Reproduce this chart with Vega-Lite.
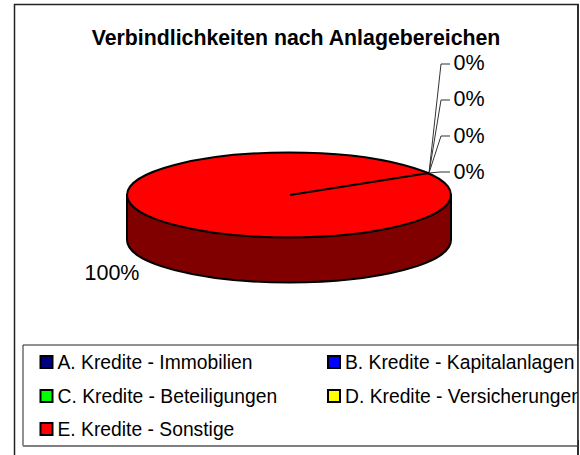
{"$schema":"https://vega.github.io/schema/vega-lite/v6.json","width":580,"height":455,"padding":0,"autosize":{"type":"none"},"background":"white","view":{"stroke":null},
"datasets":{
"frame":[{"x1":14.5,"x2":578,"y1":4.5,"y2":475}],
"legendbox":[{"x1":23,"x2":578,"y1":345,"y2":446}],
"legendbottom":[{"x1":23,"x2":578,"y":446}],
"strip":[{"x1":578,"x2":590,"y1":340,"y2":440}],
"rightedge":[{"x":578,"y1":4,"y2":455}],
"labels":[{"x":469,"y":64,"t":"0%"},{"x":469,"y":100,"t":"0%"},{"x":469,"y":137,"t":"0%"},{"x":469,"y":173,"t":"0%"},{"x":112,"y":274,"t":"100%"}],
"leaders":[{"id":"a","o":0,"x":429,"y":173},{"id":"a","o":1,"x":441,"y":64},{"id":"a","o":2,"x":450,"y":64},{"id":"b","o":0,"x":429,"y":173},{"id":"b","o":1,"x":441,"y":100},{"id":"b","o":2,"x":450,"y":100},{"id":"c","o":0,"x":429,"y":173},{"id":"c","o":1,"x":441,"y":136},{"id":"c","o":2,"x":450,"y":136},{"id":"d","o":0,"x":429,"y":173},{"id":"d","o":1,"x":440,"y":172},{"id":"d","o":2,"x":450,"y":172}],
"radius":[{"id":"r","o":0,"x":290,"y":195},{"id":"r","o":1,"x":429,"y":173}],
"legend":[{"x":46.5,"y":362,"t":"A. Kredite - Immobilien","c":"#000080"},{"x":334,"y":362,"t":"B. Kredite - Kapitalanlagen","c":"#0000ff"},{"x":46.5,"y":396,"t":"C. Kredite - Beteiligungen","c":"#00ff00"},{"x":334,"y":396,"t":"D. Kredite - Versicherungen","c":"#ffff00"},{"x":46.5,"y":429,"t":"E. Kredite - Sonstige","c":"#ff0000"}],
"pie":[{"x":289,"cy":195}],
"title":[{"x":296,"y":39,"t":"Verbindlichkeiten nach Anlagebereichen"}]
},
"encoding":{"x":{"type":"quantitative","scale":{"domain":[0,580],"range":[0,580]},"axis":null},"y":{"type":"quantitative","scale":{"domain":[0,455],"range":[0,455]},"axis":null}},
"layer":[
{"data":{"name":"frame"},"mark":{"type":"rect","fill":"white","stroke":"#222222","strokeWidth":1.5},"encoding":{"x":{"field":"x1"},"x2":{"field":"x2"},"y":{"field":"y1"},"y2":{"field":"y2"}}},
{"data":{"name":"legendbox"},"mark":{"type":"rect","fill":"white","stroke":"#222222","strokeWidth":1},"encoding":{"x":{"field":"x1"},"x2":{"field":"x2"},"y":{"field":"y1"},"y2":{"field":"y2"}}},
{"data":{"name":"legendbottom"},"mark":{"type":"rule","stroke":"#808080","strokeWidth":2},"encoding":{"x":{"field":"x1"},"x2":{"field":"x2"},"y":{"field":"y"}}},
{"data":{"name":"pie"},"mark":{"type":"point","shape":"M-1,0 L-1,0.278 A1,0.262 0 0 0 1,0.278 L1,0 Z","filled":true,"fill":"#800000","stroke":"black","strokeWidth":2,"opacity":1,"size":104976},"encoding":{"x":{"field":"x"},"y":{"field":"cy"}}},
{"data":{"name":"pie"},"mark":{"type":"point","shape":"M-1,0 A1,0.262 0 1 1 1,0 A1,0.262 0 1 1 -1,0 Z","filled":true,"fill":"#ff0000","stroke":"black","strokeWidth":2,"opacity":1,"size":104976},"encoding":{"x":{"field":"x"},"y":{"field":"cy"}}},
{"data":{"name":"leaders"},"mark":{"type":"line","color":"#333333","strokeWidth":1},"encoding":{"x":{"field":"x"},"y":{"field":"y"},"detail":{"field":"id"},"order":{"field":"o"}}},
{"data":{"name":"radius"},"mark":{"type":"line","color":"black","strokeWidth":2},"encoding":{"x":{"field":"x"},"y":{"field":"y"},"detail":{"field":"id"},"order":{"field":"o"}}},
{"data":{"name":"labels"},"mark":{"type":"text","align":"center","baseline":"middle","font":"Liberation Sans","fontSize":21.5,"color":"black"},"encoding":{"x":{"field":"x"},"y":{"field":"y"},"text":{"field":"t"}}},
{"data":{"name":"title"},"mark":{"type":"text","align":"center","baseline":"middle","font":"Liberation Sans","fontSize":21.3,"fontWeight":"bold","color":"black"},"encoding":{"x":{"field":"x"},"y":{"field":"y"},"text":{"field":"t"}}},
{"data":{"name":"legend"},"mark":{"type":"square","size":144,"opacity":1,"stroke":"black","strokeWidth":2},"encoding":{"x":{"field":"x"},"y":{"field":"y"},"fill":{"field":"c","type":"nominal","scale":null}}},
{"data":{"name":"legend"},"mark":{"type":"text","align":"left","baseline":"middle","dx":11,"dy":1,"font":"Liberation Sans","fontSize":19.3,"color":"black"},"encoding":{"x":{"field":"x"},"y":{"field":"y"},"text":{"field":"t"}}},
{"data":{"name":"strip"},"mark":{"type":"rect","fill":"white","stroke":null},"encoding":{"x":{"field":"x1"},"x2":{"field":"x2"},"y":{"field":"y1"},"y2":{"field":"y2"}}},
{"data":{"name":"rightedge"},"mark":{"type":"rule","stroke":"#222222","strokeWidth":1.5},"encoding":{"x":{"field":"x"},"y":{"field":"y1"},"y2":{"field":"y2"}}}
]}
